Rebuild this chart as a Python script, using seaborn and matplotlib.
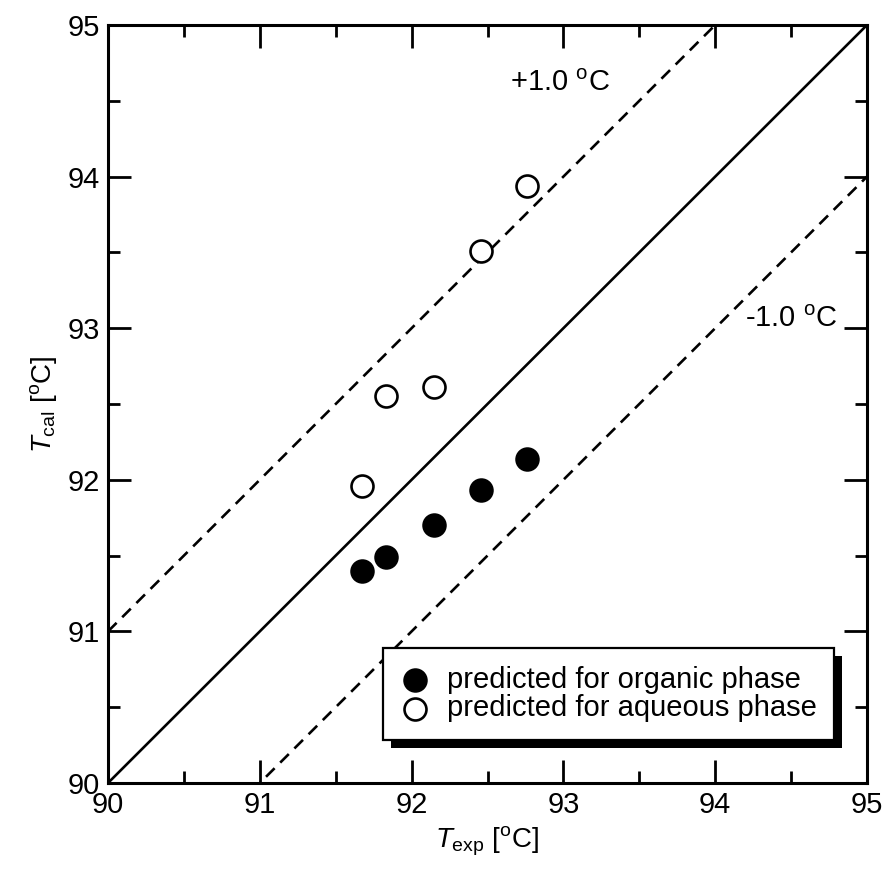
import matplotlib
matplotlib.use('Agg')
import matplotlib.pyplot as plt
import matplotlib.patches as mpatches
from matplotlib.ticker import MultipleLocator
import pandas as pd
import seaborn as sns

sns.set_style('ticks')
plt.rcParams['font.family'] = ['Liberation Sans', 'DejaVu Sans']
plt.rcParams['mathtext.fontset'] = 'custom'
plt.rcParams['mathtext.rm'] = 'Liberation Sans'
plt.rcParams['mathtext.it'] = 'Liberation Sans:italic'
plt.rcParams['font.size'] = 21
for key in ['text.color', 'axes.labelcolor', 'xtick.color', 'ytick.color', 'axes.edgecolor']:
    plt.rcParams[key] = 'black'

# data
t_exp = [91.67, 91.83, 92.15, 92.46, 92.76]
t_cal_organic = [91.40, 91.49, 91.70, 91.93, 92.14]
t_cal_aqueous = [91.96, 92.55, 92.61, 93.51, 93.94]
diag_x = [90.0, 95.0]
offset = 1.0

data = pd.DataFrame({
    'T_exp': t_exp * 2,
    'T_cal': t_cal_organic + t_cal_aqueous,
    'phase': ['predicted for organic phase'] * 5 + ['predicted for aqueous phase'] * 5,
})
lines = pd.DataFrame({'x': diag_x})

fig = plt.figure(figsize=(8.85, 8.75), dpi=100)
ax = fig.add_axes([108 / 885, 92 / 875, 759 / 885, 758 / 875])

sns.lineplot(data=lines, x='x', y='x', color='black', lw=1.9, ax=ax)
ax.plot(diag_x, [v + offset for v in diag_x], color='black', lw=1.9, dashes=(4.6, 3.0))
ax.plot(diag_x, [v - offset for v in diag_x], color='black', lw=1.9, dashes=(4.6, 3.0))

org = data[data.phase == 'predicted for organic phase']
aq = data[data.phase == 'predicted for aqueous phase']
sns.scatterplot(data=org, x='T_exp', y='T_cal', marker='o', s=270, color='black',
                edgecolor='black', linewidth=1.2, label='predicted for organic phase', ax=ax, zorder=3)
sns.scatterplot(data=aq, x='T_exp', y='T_cal', marker='o', s=250, color='white',
                edgecolor='black', linewidth=1.9, label='predicted for aqueous phase', ax=ax, zorder=3)

ax.set_xlim(90, 95)
ax.set_ylim(90, 95)
ax.xaxis.set_major_locator(MultipleLocator(1))
ax.yaxis.set_major_locator(MultipleLocator(1))
ax.xaxis.set_minor_locator(MultipleLocator(0.5))
ax.yaxis.set_minor_locator(MultipleLocator(0.5))
ax.tick_params(which='both', direction='in', top=True, right=True, width=2.0, color='black')
ax.tick_params(which='major', length=16.5, pad=6, labelsize=21)
ax.tick_params(which='minor', length=8.5)
for sp in ax.spines.values():
    sp.set_linewidth(2.2)
    sp.set_color('black')

ax.set_xlabel(r'$\mathit{T}_{\mathrm{exp}}$ [$^{\mathrm{o}}$C]', fontsize=20, labelpad=4)
ax.set_ylabel(r'$\mathit{T}_{\mathrm{cal}}$ [$^{\mathrm{o}}$C]', fontsize=20, labelpad=6)

ax.text(92.98, 94.62, r'+1.0 $^{\mathrm{o}}$C', fontsize=21, ha='center', va='center')
ax.text(94.50, 93.06, r'-1.0 $^{\mathrm{o}}$C', fontsize=21, ha='center', va='center')

leg = ax.legend(loc='upper left', bbox_to_anchor=(0.362, 0.178), borderaxespad=0,
                fontsize=21, frameon=True, fancybox=False, handlelength=1.0,
                handletextpad=0.6, borderpad=0.6, labelspacing=0.02)
frame = leg.get_frame()
frame.set_edgecolor('black')
frame.set_linewidth(1.6)
frame.set_facecolor('white')
frame.set_alpha(1)
leg.set_zorder(6)

# solid black drop shadow behind the legend box
fig.canvas.draw()
bb = frame.get_window_extent().transformed(fig.transFigure.inverted())
dx, dy = 8 / 885, 8 / 875
shadow = mpatches.Rectangle((bb.x0 + dx, bb.y0 - dy), bb.width, bb.height,
                            transform=fig.transFigure, facecolor='black',
                            edgecolor='none', zorder=5)
ax.add_artist(shadow)
shadow.set_clip_on(False)

fig.savefig('out.png', dpi=100)
